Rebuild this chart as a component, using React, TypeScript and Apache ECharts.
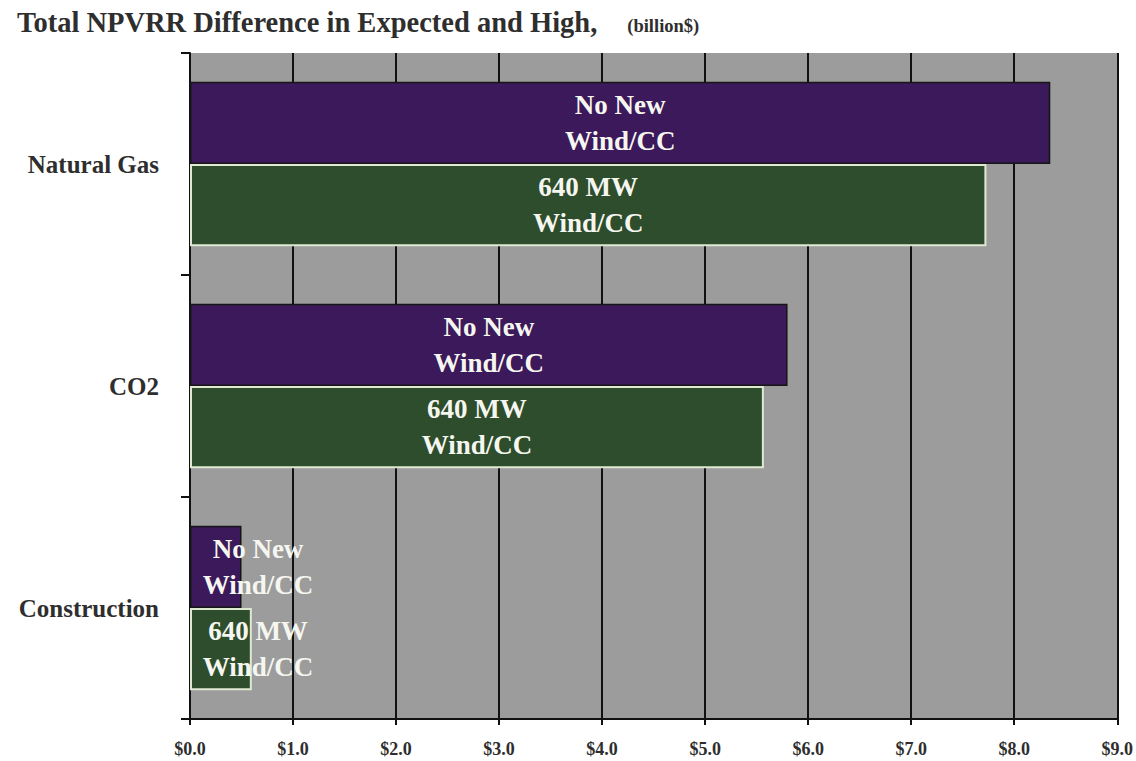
import React, { useEffect, useRef } from "react";
import * as echarts from "echarts";

// Scenario categories, top to bottom
const categories = ["Natural Gas", "CO2", "Construction"];

// Series names (bar labels) and values in billion $
const seriesNames = ["No New\nWind/CC", "640 MW\nWind/CC"];
const noNewWindCC = [8.35, 5.8, 0.5];
const mw640WindCC = [7.73, 5.57, 0.6];

// X axis range in billion $
const xMin = 0;
const xMax = 9;
const xStep = 1;

const SERIF = '"Liberation Serif", "Times New Roman", "DejaVu Serif", serif';

export default function App() {
  const ref = useRef<HTMLDivElement>(null);

  useEffect(() => {
    if (!ref.current) return;
    const chart = echarts.init(ref.current, null, { renderer: "svg" });

    // The last category's bars are too short for their labels, which sit past the bar end
    const smallCategory = categories.length - 1;
    const makeData = (vals: number[]) =>
      vals.map((v, i) =>
        i === smallCategory
          ? {
              value: v,
              label: { position: [68, "50%"], align: "center", verticalAlign: "middle" },
            }
          : v
      );

    const labelStyle = {
      show: true,
      position: "inside",
      formatter: "{a}",
      color: "#f6f6f0",
      fontFamily: SERIF,
      fontWeight: "bold",
      fontSize: 27,
      lineHeight: 36,
    };

    chart.setOption({
      animation: false,
      backgroundColor: "#ffffff",
      title: {
        left: 12,
        top: 3,
        text: "{a|Total NPVRR Difference in Expected and High,}      {b|(billion$)}",
        textStyle: {
          rich: {
            a: {
              fontFamily: SERIF,
              fontWeight: "bold",
              fontSize: 28.5,
              color: "#2e2e2e",
            },
            b: {
              fontFamily: SERIF,
              fontWeight: "bold",
              fontSize: 18.5,
              color: "#2e2e2e",
              padding: [6, 0, 0, 0],
            },
          },
        },
      },
      grid: {
        left: 190,
        right: 18,
        top: 53,
        bottom: 42,
        show: true,
        backgroundColor: "#9c9c9c",
        borderWidth: 0,
      },
      xAxis: {
        type: "value",
        min: xMin,
        max: xMax,
        interval: xStep,
        axisLine: { show: true, lineStyle: { color: "#111", width: 2 } },
        axisTick: { show: true, length: 6, lineStyle: { color: "#111", width: 2 } },
        splitLine: { show: true, lineStyle: { color: "#111", width: 2 } },
        axisLabel: {
          formatter: (v: number) => "$" + v.toFixed(1),
          color: "#2e2e2e",
          fontFamily: SERIF,
          fontWeight: "bold",
          fontSize: 18,
          margin: 21,
        },
      },
      yAxis: {
        type: "category",
        data: categories,
        inverse: true,
        axisLine: { show: true, lineStyle: { color: "#111", width: 2 } },
        axisTick: { show: true, length: 9, lineStyle: { color: "#111", width: 2 } },
        splitLine: { show: false },
        axisLabel: {
          color: "#2e2e2e",
          fontFamily: SERIF,
          fontWeight: "bold",
          fontSize: 25,
          margin: 31,
        },
      },
      series: [
        {
          name: seriesNames[0],
          type: "bar",
          data: makeData(noNewWindCC),
          barGap: "0%",
          barCategoryGap: "26%",
          itemStyle: { color: "#3b195a", borderColor: "#161616", borderWidth: 1.5 },
          label: labelStyle,
        },
        {
          name: seriesNames[1],
          type: "bar",
          data: makeData(mw640WindCC),
          barGap: "0%",
          barCategoryGap: "26%",
          itemStyle: { color: "#2d4d2c", borderColor: "#dfe9d2", borderWidth: 2 },
          label: labelStyle,
        },
      ],
    });

    return () => chart.dispose();
  }, []);

  return (
    <div
      ref={ref}
      style={{ position: "absolute", left: 0, top: 0, width: 1136, height: 761 }}
    />
  );
}
